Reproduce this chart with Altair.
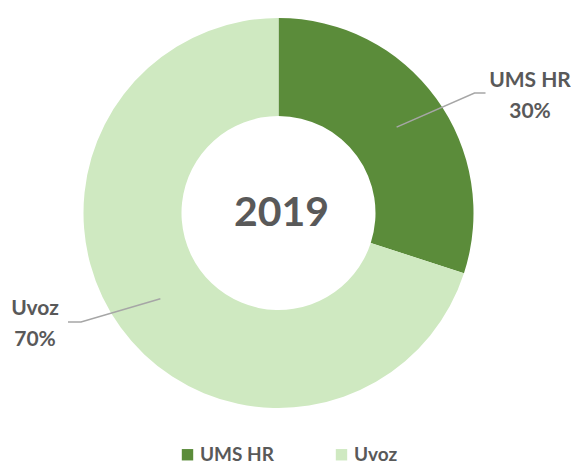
import altair as alt
import pandas as pd
import numpy as np

categories = ["UMS HR", "Uvoz"]
shares = [30, 70]
pct_labels = ["30%", "70%"]
colors = ["#5B8C3A", "#CFE9C1"]
center_title = "2019"

# layout (chart pixel coords)
CX, CY = 270.5, 205.0
R_IN, R_OUT = 97, 195
FONT = "Lato"
GREY = "#595959"

df = pd.DataFrame({"cat": categories, "val": shares, "order": [0, 1]})

donut = alt.Chart(df).mark_arc(innerRadius=R_IN, outerRadius=R_OUT).encode(
    theta=alt.Theta("val:Q", stack=True),
    order=alt.Order("order:Q"),
    color=alt.Color(
        "cat:N",
        scale=alt.Scale(domain=categories, range=colors),
        legend=alt.Legend(
            title=None, orient="none", legendX=170, legendY=437,
            direction="horizontal", symbolType="square", symbolSize=130,
            symbolStrokeWidth=0, labelFont=FONT, labelFontWeight="bold",
            labelFontSize=19, labelColor=GREY, columnPadding=58, labelOffset=3,
        ),
    ),
    x=alt.value(CX), y=alt.value(CY),
)

# leader lines: start at ring middle on each slice's mid-angle
cum = np.cumsum([0] + shares)
total = sum(shares)
mid_ang = [(cum[i] + shares[i] / 2) / total * 2 * np.pi for i in range(len(shares))]
r_mid = (R_IN + R_OUT) / 2
elbows = [(466.5, 85.0), (73.0, 314.0)]
ends = [(477.5, 85.0), (60.0, 314.0)]
rows = []
for i, c in enumerate(categories):
    sx = CX + r_mid * np.sin(mid_ang[i])
    sy = CY - r_mid * np.cos(mid_ang[i])
    rows += [
        {"cat": c, "k": 0, "px": sx, "py": sy},
        {"cat": c, "k": 1, "px": elbows[i][0], "py": elbows[i][1]},
        {"cat": c, "k": 2, "px": ends[i][0], "py": ends[i][1]},
    ]
lines = alt.Chart(pd.DataFrame(rows)).mark_line(color="#A6A6A6", strokeWidth=1.5).encode(
    x=alt.X("px:Q", scale=None, axis=None),
    y=alt.Y("py:Q", scale=None, axis=None),
    detail="cat:N",
    order="k:Q",
)

label_pos = [(522.0, 73.0), (27.0, 301.0)]
lab_df = pd.DataFrame({
    "txt": [categories[0], pct_labels[0], categories[1], pct_labels[1]],
    "lx": [label_pos[0][0], label_pos[0][0], label_pos[1][0], label_pos[1][0]],
    "ly": [label_pos[0][1], label_pos[0][1] + 31, label_pos[1][1], label_pos[1][1] + 31],
})
labels = alt.Chart(lab_df).mark_text(
    font=FONT, fontWeight="bold", fontSize=21, color=GREY, align="center", baseline="middle"
).encode(
    x=alt.X("lx:Q", scale=None, axis=None),
    y=alt.Y("ly:Q", scale=None, axis=None),
    text="txt:N",
)

title_df = pd.DataFrame({"t": [center_title]})
title = alt.Chart(title_df).mark_text(
    font=FONT, fontWeight="bold", fontSize=41, color=GREY, align="center", baseline="middle"
).encode(x=alt.value(CX + 3), y=alt.value(CY + 1), text="t:N")

chart = alt.layer(donut, lines, labels, title).properties(
    width=563, height=456, autosize=alt.AutoSizeParams(type="none"), padding=0,
    background="white",
).configure_view(stroke=None)

chart.save("out.html", embed_options={"renderer": "svg", "actions": False})
